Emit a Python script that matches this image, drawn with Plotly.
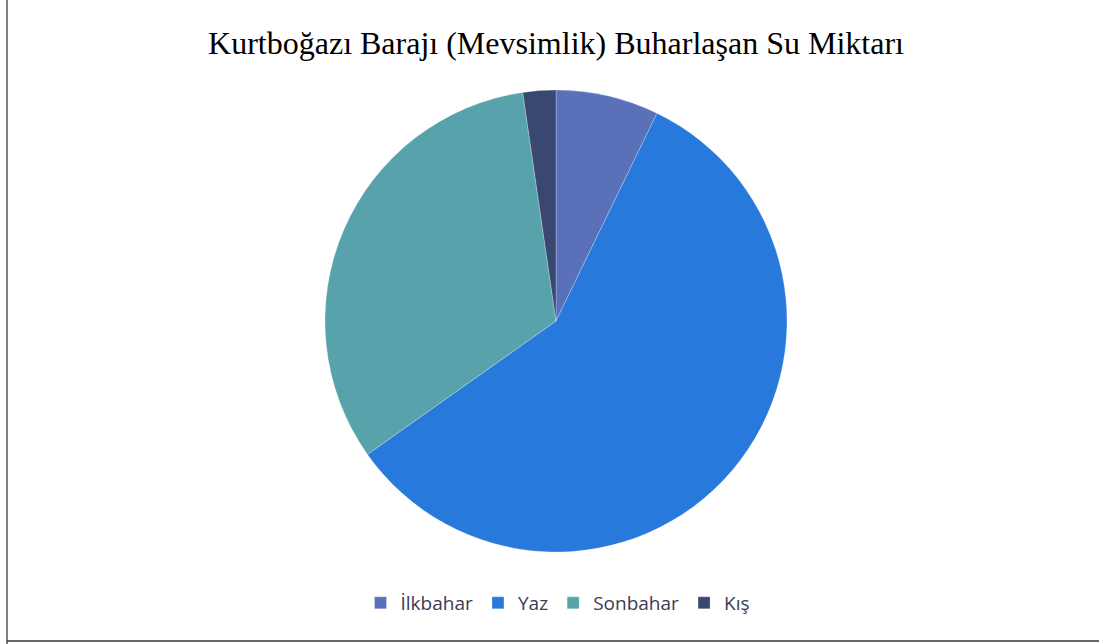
import plotly.graph_objects as go

# Seasonal share of evaporated water (percent)
seasons = ["İlkbahar", "Yaz", "Sonbahar", "Kış"]
evaporation_share = [7.2, 58.0, 32.5, 2.3]
season_colors = ["#5a70b8", "#2779dc", "#58a2ac", "#394870"]

W, H = 1099, 644

fig = go.Figure(
    go.Pie(
        labels=seasons,
        values=evaporation_share,
        sort=False,
        direction="clockwise",
        rotation=0,
        textinfo="none",
        hoverinfo="label+value",
        marker=dict(colors=season_colors, line=dict(color="rgba(255,255,255,0.5)", width=0.5)),
        domain=dict(x=[(556 - 231) / W, (556 + 231) / W],
                    y=[(H - 552) / H, (H - 90) / H]),
    )
)

fig.update_layout(
    width=W,
    height=H,
    margin=dict(l=0, r=0, t=0, b=0),
    paper_bgcolor="white",
    plot_bgcolor="white",
    title=dict(
        text="Kurtboğazı Barajı (Mevsimlik) Buharlaşan Su Miktarı",
        x=556 / W,
        xanchor="center",
        y=1 - 43 / H,
        yanchor="middle",
        font=dict(family="Liberation Serif, Times New Roman, serif", size=32, color="#000000"),
    ),
    legend=dict(
        orientation="h",
        x=558 / W,
        xanchor="center",
        y=1 - 603 / H,
        yanchor="middle",
        font=dict(family="Open Sans, Noto Sans, sans-serif", size=19, color="#3b3b55"),
        itemwidth=30,
        tracegroupgap=0,
    ),
    shapes=[
        dict(type="line", xref="paper", yref="paper",
             x0=7 / W, x1=7 / W, y0=0, y1=1,
             line=dict(color="#555555", width=1.5)),
        dict(type="line", xref="paper", yref="paper",
             x0=7 / W, x1=1, y0=1 - 641 / H, y1=1 - 641 / H,
             line=dict(color="#333333", width=1.5)),
    ],
)

fig.write_html("out.html")
